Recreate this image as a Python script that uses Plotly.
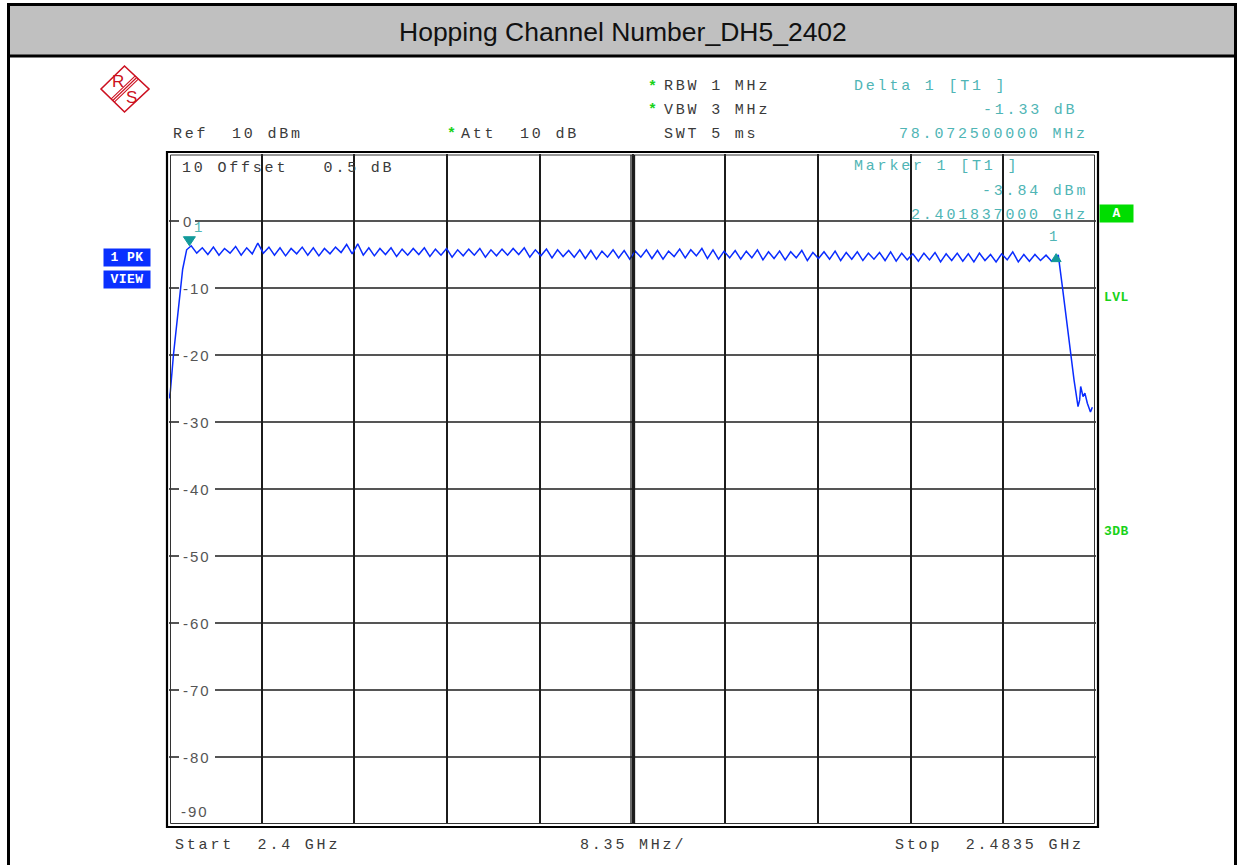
import plotly.graph_objects as go

# ---- trace data (MHz, dBm) ----
start_mhz = 2400.0
stop_mhz = 2483.5
div_mhz = 8.35

# rising band edge
edge_lo_f = [2400.0, 2400.12, 2400.40, 2400.63, 2400.93, 2401.23, 2401.59, 2401.837]
edge_lo_db = [-26.5, -25.5, -20.0, -16.3, -11.8, -7.2, -4.3, -3.84]

# hopping channel peaks at 2402 + k MHz (k = 0..78)
chan_peak_db = [
    -3.7, -4.0, -3.9, -4.1, -3.8, -4.0, -3.3, -3.9, -4.0, -4.1,
    -3.9, -4.0, -4.1, -3.9, -3.5, -3.4, -4.0, -4.1, -4.0, -4.2,
    -4.1, -4.0, -4.2, -4.1, -4.3, -4.2, -4.1, -4.3, -4.2, -4.1,
    -4.0, -4.3, -4.2, -4.3, -4.4, -4.3, -4.4, -4.5, -4.3, -4.4,
    -4.5, -4.3, -4.4, -4.5, -4.2, -4.3, -4.1, -4.3, -4.5, -4.4,
    -4.5, -4.3, -4.6, -4.5, -4.6, -4.4, -4.7, -4.6, -4.5, -4.7,
    -4.6, -4.8, -4.7, -4.6, -4.8, -4.9, -4.8, -4.7, -4.9, -4.8,
    -4.9, -4.8, -5.0, -4.9, -4.6, -5.0, -5.0, -5.1, -5.1,
]
# dips between neighbouring channels (2402.5 + k MHz)
chan_dip_db = [
    -4.8, -5.0, -5.1, -4.8, -5.1, -4.9, -4.8, -5.1, -5.2, -4.9,
    -5.1, -5.2, -4.9, -4.7, -4.9, -5.1, -5.2, -5.0, -5.3, -5.1,
    -5.0, -5.3, -5.1, -5.4, -5.2, -5.1, -5.4, -5.2, -5.1, -5.0,
    -5.4, -5.2, -5.5, -5.3, -5.4, -5.6, -5.7, -5.4, -5.5, -5.7,
    -5.4, -5.6, -5.7, -5.3, -5.5, -5.2, -5.6, -5.7, -5.5, -5.7,
    -5.5, -5.8, -5.6, -5.8, -5.5, -5.9, -5.6, -5.7, -5.9, -5.7,
    -5.9, -5.7, -5.9, -6.0, -5.8, -6.0, -5.8, -6.1, -5.9, -6.0,
    -6.1, -5.9, -6.1, -5.8, -6.1, -6.0, -5.9, -6.0,
]

# falling band edge
edge_hi_f = [2480.10, 2480.47, 2480.92, 2481.20, 2481.52, 2481.88, 2482.03,
             2482.12, 2482.33, 2482.50, 2482.72, 2483.00, 2483.17]
edge_hi_db = [-5.07, -9.8, -15.8, -20.2, -23.7, -27.7, -26.7,
              -24.7, -26.2, -25.7, -27.2, -28.5, -27.8]

# markers
m1_f_mhz = 2401.837
m1_db = -3.84
d1_f_mhz = 78.0725
d1_db = -1.33

y_ticks = [0, -10, -20, -30, -40, -50, -60, -70, -80]
y_bottom_label = -90

# ---- assemble the sweep ----
freq = list(edge_lo_f)
level = list(edge_lo_db)
for k, p in enumerate(chan_peak_db):
    freq.append(2402.0 + k)
    level.append(p)
    if k < len(chan_dip_db):
        freq.append(2402.5 + k)
        level.append(chan_dip_db[k])
freq += edge_hi_f
level += edge_hi_db

W, H = 1239, 865


def px(x):
    return x / W


def py(y):
    return 1 - y / H


MONO = "Liberation Mono"
SANS = "Liberation Sans"
GRAY = "#3a3a3a"
TEAL = "#4fb5b5"
GREEN = "#19d219"
GRID = "#1c1c1c"

fig = go.Figure()
fig.add_trace(go.Scatter(x=freq, y=level, mode="lines",
                         line=dict(color="#0a2cff", width=1.5),
                         hoverinfo="skip", showlegend=False))

PL, PR, PT, PB = 169, 1096, 154, 824

fig.update_layout(
    width=W, height=H, margin=dict(l=0, r=0, t=0, b=0),
    paper_bgcolor="white", plot_bgcolor="white", showlegend=False,
    xaxis=dict(domain=[px(PL), px(PR)], range=[start_mhz, stop_mhz],
               tick0=start_mhz, dtick=div_mhz, showgrid=True,
               gridcolor=GRID, gridwidth=1.5, showticklabels=False,
               zeroline=False, showline=False, ticks=""),
    yaxis=dict(domain=[py(PB), py(PT)], range=[-90, 10], showgrid=False,
               showticklabels=False, zeroline=False, showline=False,
               ticks=""),
)

shapes = []
ann = []


def line(x0, y0, x1, y1, w=1.5, color="black", layer="above"):
    shapes.append(dict(type="line", xref="paper", yref="paper",
                       x0=px(x0), y0=py(y0), x1=px(x1), y1=py(y1),
                       line=dict(color=color, width=w), layer=layer))


def text(s, x, y, color=GRAY, anchor="left", size=15, family=MONO,
         ls=2.8, bold=False, bg=None, w=None, h=None, yanchor="middle"):
    t = s
    if ls:
        t = f'<span style="letter-spacing:{ls}px">{t}</span>'
    if bold:
        t = f"<b>{t}</b>"
    d = dict(text=t, xref="paper", yref="paper", x=px(x), y=py(y),
             xanchor=anchor, yanchor=yanchor, showarrow=False,
             font=dict(family=family, size=size, color=color))
    if bg:
        d.update(bgcolor=bg, borderpad=0)
    if w:
        d.update(width=w, align="center")
    if h:
        d.update(height=h, valign="middle")
    ann.append(d)


# page frame and header band
shapes.append(dict(type="rect", xref="paper", yref="paper",
                   x0=px(9), y0=py(5), x1=px(1234), y1=py(55),
                   fillcolor="#c0c0c0", line=dict(width=0), layer="below"))
line(8.5, 3, 8.5, 865, w=3)
line(1235.5, 3, 1235.5, 865, w=3)
line(7, 4.5, 1237, 4.5, w=3)
line(7, 56, 1237, 56, w=3)
text("Hopping Channel Number_DH5_2402", 623, 32, color="#111",
     anchor="center", size=26.5, family=SANS, ls=0)

# horizontal graticule with gaps for the level labels
for v in y_ticks:
    lab = str(v)
    gap_end = 183 + 10 * len(lab) + 2
    for xa, xb in ((PL, 179), (gap_end, PR)):
        shapes.append(dict(type="line", xref="paper", yref="y",
                           x0=px(xa), x1=px(xb), y0=v, y1=v,
                           line=dict(color=GRID, width=1.5), layer="below"))
    ann.append(dict(text=f'<span style="letter-spacing:2px">{lab}</span>',
                    xref="paper", yref="y", x=px(181), y=v,
                    xanchor="left", yanchor="middle", showarrow=False,
                    font=dict(family=SANS, size=15, color="#555555")))
ann.append(dict(text=f'<span style="letter-spacing:2px">{y_bottom_label}</span>',
                xref="paper", yref="y", x=px(179), y=y_bottom_label,
                yshift=13, xanchor="left", yanchor="middle", showarrow=False,
                font=dict(family=SANS, size=15, color="#555555")))

# double frame around the display, double centre line
shapes.append(dict(type="rect", xref="paper", yref="paper",
                   x0=px(167), y0=py(152), x1=px(1098), y1=py(827),
                   line=dict(color="black", width=2.2)))
shapes.append(dict(type="rect", xref="paper", yref="paper",
                   x0=px(170.5), y0=py(155), x1=px(1094.5), y1=py(823.5),
                   line=dict(color="#333", width=1)))
line(631, 155, 631, 824, w=1.3, color=GRID)
line(634.5, 155, 634.5, 824, w=1.3, color=GRID)

# R&S logo
RED = "#cc1020"
shapes.append(dict(type="path", xref="paper", yref="paper",
                   path=f"M {px(101)},{py(89)} L {px(124.5)},{py(66)} "
                        f"L {px(149)},{py(89)} L {px(124.5)},{py(112)} Z",
                   line=dict(color=RED, width=1.6)))
for o in (-2.2, 0, 2.2):
    line(112.75 + o * 0.69, 100.5 + o * 0.72, 136.75 + o * 0.69,
         77.5 + o * 0.72, w=1.1, color=RED)
text("R", 117.5, 81.5, color=RED, anchor="center", size=17, family=SANS, ls=0)
text("S", 131.5, 97, color=RED, anchor="center", size=17, family=SANS, ls=0)

# setup readouts
text("Ref  10 dBm", 171, 134)
text("*", 652, 87, color=GREEN, anchor="center", size=15, ls=0, bold=True)
text("RBW 1 MHz", 662, 86)
text("*", 652, 111, color=GREEN, anchor="center", size=15, ls=0, bold=True)
text("VBW 3 MHz", 662, 110)
text("SWT 5 ms", 662, 134)
text("*", 452, 135, color=GREEN, anchor="center", size=15, ls=0, bold=True)
text("Att  10 dB", 459, 134)
text("10 Offset   0.5 dB", 180, 168)

# marker readouts
d_abs_f = m1_f_mhz + d1_f_mhz
d_abs_db = m1_db + d1_db
text("Delta 1 [T1 ]", 852, 86, color=TEAL)
text(f"{d1_db:.2f} dB", 1079, 110, color=TEAL, anchor="right")
text(f"{d1_f_mhz:.9f} MHz", 1090, 134, color=TEAL, anchor="right")
text("Marker 1 [T1 ]", 852, 167, color=TEAL)
text(f"{m1_db:.2f} dBm", 1090, 191, color=TEAL, anchor="right")
text(f"{m1_f_mhz / 1000:.9f} GHz", 1090, 215, color=TEAL, anchor="right")

# marker symbols anchored to the trace
MK = "#139a9a"
shapes.append(dict(type="path", xref="x", yref="y", xsizemode="pixel",
                   ysizemode="pixel", xanchor=m1_f_mhz, yanchor=m1_db,
                   path="M -6,10 L 6,10 L 0,1 Z", fillcolor=MK,
                   line=dict(color=MK, width=1)))
shapes.append(dict(type="path", xref="x", yref="y", xsizemode="pixel",
                   ysizemode="pixel", xanchor=d_abs_f, yanchor=d_abs_db,
                   path="M -5,-6 L 5,-6 L 0,2 Z", fillcolor=MK,
                   line=dict(color=MK, width=1)))
for xf, yd, xs in ((m1_f_mhz, m1_db, 9), (d_abs_f, d_abs_db, -3)):
    ann.append(dict(text="1", xref="x", yref="y", x=xf, y=yd, yshift=19,
                    xshift=xs, xanchor="center", yanchor="middle",
                    showarrow=False,
                    font=dict(family=MONO, size=14, color=TEAL)))

# side status boxes
text("A", 1116.5, 213.5, color="white", anchor="center", size=13, ls=0,
     bold=True, bg="#00dd00", w=33, h=17)
text("LVL", 1102, 298, color=GREEN, size=13, ls=0.5, bold=True)
text("3DB", 1102, 531, color=GREEN, size=13, ls=0.5, bold=True)
text("1 PK", 127, 258, color="white", anchor="center", size=13, ls=0.5,
     bold=True, bg="#0a30ff", w=46, h=17)
text("VIEW", 127, 279, color="white", anchor="center", size=13, ls=0.5,
     bold=True, bg="#0a30ff", w=46, h=17)

# frequency axis annotation
text("Start  2.4 GHz", 173, 845)
text(f"{div_mhz:.2f} MHz/", 578, 845)
text("Stop  2.4835 GHz", 1086, 845, anchor="right")

fig.update_layout(shapes=shapes, annotations=ann)
fig.write_html("out.html")
